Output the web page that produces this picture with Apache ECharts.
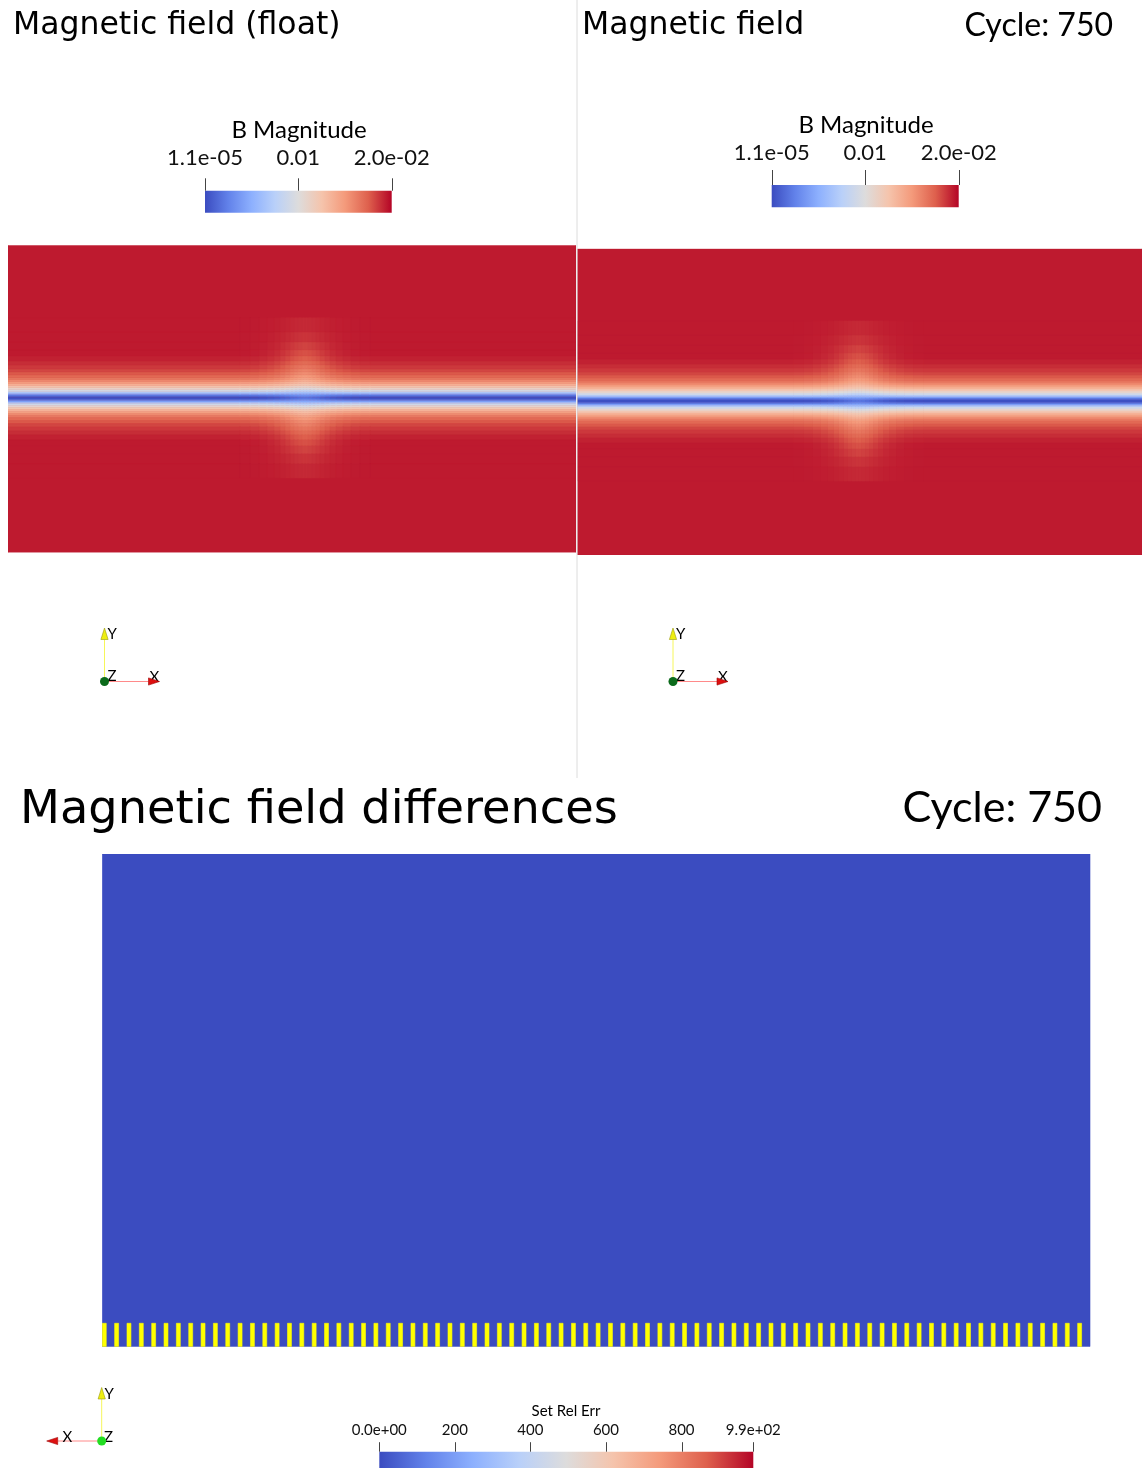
<!DOCTYPE html>
<html><head><meta charset="utf-8">
<script src="https://cdn.jsdelivr.net/npm/echarts@6/dist/echarts.min.js"></script>
<style>html,body{margin:0;padding:0;background:#fff}#c{width:1142px;height:1468px}</style>
</head><body><div id="c"></div>
<script>
// ---------------- data ----------------
const fieldRange = [1.1e-5, 0.02];
const fieldTickValues = [1.1e-5, 0.01, 0.02];
const fieldTickLabels = ['1.1e-05', '0.01', '2.0e-02'];
const errRange = [0, 990];
const errTickValues = [0, 200, 400, 600, 800, 990];
const errTickLabels = ['0.0e+00', '200', '400', '600', '800', '9.9e+02'];
// B magnitude far from the current sheet
const backgroundB = 0.0194;
// row edges: distance (px-like units) from the current-sheet centre line
const bandRowEdges = [0, 1.5, 3, 4.5, 6, 8, 10, 12, 14, 16, 18, 20, 23, 26, 29, 33, 37, 42, 48, 56, 66, 80];
// B magnitude per row, away from the island and at the island centre
const bandFarB  = [0.0002, 0.0015, 0.004, 0.0065, 0.009, 0.0108, 0.0122, 0.0135, 0.0146, 0.0156, 0.0164, 0.0171, 0.0177, 0.0182, 0.0186, 0.0189, 0.0192, 0.0194, 0.0194, 0.0194, 0.0194];
const bandBlobB = [0.002, 0.003, 0.0045, 0.006, 0.0078, 0.0095, 0.0108, 0.012, 0.0128, 0.0136, 0.0143, 0.0149, 0.0155, 0.016, 0.0165, 0.017, 0.0175, 0.0179, 0.0183, 0.0187, 0.019];
// island column edges (distance from island centre) and its strength per column
const blobColEdges = [0, 3, 7, 11, 15, 20, 25, 31, 38, 46, 55, 65];
const blobColWeight = [1, 0.94, 0.85, 0.74, 0.6, 0.46, 0.33, 0.22, 0.13, 0.06, 0.02];
// visible extents of the two views (island centre at x=0, sheet at y=0)
const leftViewX = [-297, 271], leftViewY = [-154.6, 152.4];
const rightViewX = [-281, 283.5], rightViewY = [-154, 152.3];
// differences view: 80 mesh columns, relative error 0 everywhere, NaN stripes in bottom rows
const diffCells = 80;
const diffRowsTop = 41;
const diffValue = 0;
const nanRowSpan = [0, 1.95];
const nanWidth = 0.32;

// ---------------- build cells ----------------
function buildField(vx, vy) {
  const out = [[vx[0], vx[1], vy[0], vy[1], backgroundB]];
  const maxE = blobColEdges[blobColEdges.length - 1];
  for (let r = 0; r < bandFarB.length; r++) {
    const d0 = bandRowEdges[r], d1 = bandRowEdges[r + 1];
    for (const s of [1, -1]) {
      const y0 = s > 0 ? d0 : -d1, y1 = s > 0 ? d1 : -d0;
      out.push([vx[0], -maxE, y0, y1, bandFarB[r]]);
      out.push([maxE, vx[1], y0, y1, bandFarB[r]]);
      for (let c = 0; c < blobColWeight.length; c++) {
        const v = bandFarB[r] + blobColWeight[c] * (bandBlobB[r] - bandFarB[r]);
        out.push([blobColEdges[c], blobColEdges[c + 1], y0, y1, v]);
        out.push([-blobColEdges[c + 1], -blobColEdges[c], y0, y1, v]);
      }
    }
  }
  return out;
}
const leftCells = buildField(leftViewX, leftViewY);
const rightCells = buildField(rightViewX, rightViewY);
const diffCellsData = [[0, diffCells, 0, diffRowsTop, diffValue]];
const nanCells = [];
for (let k = 0; k < diffCells; k++) nanCells.push([k, k + nanWidth, nanRowSpan[0], nanRowSpan[1]]);

const coolwarm = ['#3b4cc0', '#6282ea', '#8db0fe', '#b9d0f9', '#dddcdc', '#f5c4ac', '#f49a7b', '#de604d', '#b40426'];

function cellRender(params, api) {
  const a = api.coord([api.value(0), api.value(3)]);
  const b = api.coord([api.value(1), api.value(2)]);
  const col = api.style().fill || api.visual('color');
  return { type: 'rect', shape: { x: a[0], y: a[1], width: b[0] - a[0], height: b[1] - a[1] },
    style: { fill: col, stroke: col, lineWidth: 0.6 } };
}
function barRender(params, api) {
  const a = api.coord([api.value(0), 1]);
  const b = api.coord([api.value(1), 0]);
  const stops = coolwarm.map((c, i) => ({ offset: i / (coolwarm.length - 1), color: c }));
  return { type: 'rect', shape: { x: a[0], y: a[1], width: b[0] - a[0], height: b[1] - a[1] },
    style: { fill: new echarts.graphic.LinearGradient(0, 0, 1, 0, stops) } };
}
function tickRender(len) {
  return function (params, api) {
    const p = api.coord([api.value(0), 1]);
    const x = Math.round(p[0]) + 0.5;
    return { type: 'line', shape: { x1: x, y1: p[1], x2: x, y2: p[1] - len },
      style: { stroke: '#444', lineWidth: 1 } };
  };
}
function nearest(arr, v) {
  let bi = 0, bd = Infinity;
  arr.forEach((t, i) => { const d = Math.abs(t - v); if (d < bd) { bd = d; bi = i; } });
  return bi;
}
function hiddenAxis(gi, range) {
  return { gridIndex: gi, type: 'value', min: range[0], max: range[1], show: false };
}
function cbAxis(gi, range, ticks, labels, margin, fontSize) {
  return { gridIndex: gi, type: 'value', min: range[0], max: range[1], position: 'top',
    axisLine: { show: false }, splitLine: { show: false }, axisTick: { show: false },
    axisLabel: { show: true, customValues: ticks, margin: margin, fontSize: fontSize, fontFamily: 'Lato',
      color: '#111', verticalAlign: 'middle', formatter: v => labels[nearest(ticks, v)] } };
}

const FONT = 'Lato';
function txt(x, y, s, size, align, family) {
  return { type: 'text', x: x, y: y, style: { text: s, fontSize: size, fontFamily: family || FONT,
    fill: '#000', align: align || 'left', verticalAlign: 'middle' }, z: 10 };
}
function triad(ox, oy, dirX, yellowCol, greenCol) {
  const xEnd = ox + dirX * 44, xApex = ox + dirX * 55;
  return [
    { type: 'line', shape: { x1: ox, y1: oy, x2: ox, y2: oy - 42 }, style: { stroke: '#f6f65a', lineWidth: 1 }, z: 10 },
    { type: 'polygon', shape: { points: [[ox - 3.6, oy - 42], [ox + 3.6, oy - 42], [ox, oy - 53.5]] }, style: { fill: yellowCol, stroke: '#9a9a10', lineWidth: 0.6 }, z: 11 },
    { type: 'line', shape: { x1: ox, y1: oy, x2: xEnd, y2: oy }, style: { stroke: '#ff8a8a', lineWidth: 1 }, z: 10 },
    { type: 'polygon', shape: { points: [[xEnd, oy - 3.6], [xEnd, oy + 3.6], [xApex, oy]] }, style: { fill: '#dd1010', stroke: '#a00000', lineWidth: 0.6 }, z: 11 },
    { type: 'circle', shape: { cx: ox, cy: oy, r: 4.5 }, style: { fill: greenCol }, z: 12 }
  ];
}

const TITLE = 'DejaVu Sans';
const option = {
  animation: false,
  backgroundColor: '#ffffff',
  grid: [
    { left: 8, top: 245.3, width: 568, height: 307.3 },
    { left: 577.5, top: 248.7, width: 564.5, height: 306.3 },
    { left: 102.3, top: 854, width: 987.7, height: 492.7 },
    { left: 205, top: 190.7, width: 186.7, height: 22 },
    { left: 771.7, top: 185, width: 187, height: 22.3 },
    { left: 379.3, top: 1451.7, width: 374, height: 20 }
  ],
  xAxis: [
    hiddenAxis(0, leftViewX), hiddenAxis(1, rightViewX), hiddenAxis(2, [0, diffCells]),
    cbAxis(3, fieldRange, fieldTickValues, fieldTickLabels, 32.4, 22),
    cbAxis(4, fieldRange, fieldTickValues, fieldTickLabels, 31.7, 22),
    cbAxis(5, errRange, errTickValues, errTickLabels, 21.7, 15)
  ],
  yAxis: [
    hiddenAxis(0, leftViewY), hiddenAxis(1, rightViewY), hiddenAxis(2, [0, diffRowsTop]),
    hiddenAxis(3, [0, 1]), hiddenAxis(4, [0, 1]), hiddenAxis(5, [0, 1])
  ],
  visualMap: [
    { type: 'continuous', show: false, min: fieldRange[0], max: fieldRange[1], dimension: 4, seriesIndex: [0, 1], inRange: { color: coolwarm } },
    { type: 'continuous', show: false, min: errRange[0], max: errRange[1], dimension: 4, seriesIndex: [2], inRange: { color: coolwarm } }
  ],
  series: [
    { type: 'custom', name: 'B Magnitude (float)', xAxisIndex: 0, yAxisIndex: 0, clip: true, renderItem: cellRender, data: leftCells, encode: { x: [0, 1], y: [2, 3] }, silent: true },
    { type: 'custom', name: 'B Magnitude', xAxisIndex: 1, yAxisIndex: 1, clip: true, renderItem: cellRender, data: rightCells, encode: { x: [0, 1], y: [2, 3] }, silent: true },
    { type: 'custom', name: 'Set Rel Err', xAxisIndex: 2, yAxisIndex: 2, clip: true, renderItem: cellRender, data: diffCellsData, encode: { x: [0, 1], y: [2, 3] }, silent: true },
    { type: 'custom', name: 'NaN', xAxisIndex: 2, yAxisIndex: 2, clip: true, itemStyle: { color: '#ffff00' }, renderItem: cellRender, data: nanCells, encode: { x: [0, 1], y: [2, 3] }, silent: true },
    { type: 'custom', xAxisIndex: 3, yAxisIndex: 3, renderItem: barRender, data: [fieldRange], silent: true },
    { type: 'custom', xAxisIndex: 4, yAxisIndex: 4, renderItem: barRender, data: [fieldRange], silent: true },
    { type: 'custom', xAxisIndex: 5, yAxisIndex: 5, renderItem: barRender, data: [errRange], silent: true },
    { type: 'custom', xAxisIndex: 3, yAxisIndex: 3, renderItem: tickRender(12.4), data: fieldTickValues.map(v => [v]), silent: true, z: 5 },
    { type: 'custom', xAxisIndex: 4, yAxisIndex: 4, renderItem: tickRender(15), data: fieldTickValues.map(v => [v]), silent: true, z: 5 },
    { type: 'custom', xAxisIndex: 5, yAxisIndex: 5, renderItem: tickRender(9.5), data: errTickValues.map(v => [v]), silent: true, z: 5 }
  ],
  graphic: [
    { type: 'line', shape: { x1: 577, y1: 0, x2: 577, y2: 778 }, style: { stroke: '#dcdcdc', lineWidth: 1 }, z: 5 },
    txt(13, 26, 'Magnetic field (float)', 31.5, 'left', TITLE),
    txt(582, 26, 'Magnetic field', 31.5, 'left', TITLE),
    txt(1113, 26, 'Cycle: 750', 32, 'right'),
    txt(299, 130.7, 'B Magnitude', 24, 'center'),
    txt(866, 125, 'B Magnitude', 24, 'center'),
    txt(20, 811, 'Magnetic field differences', 46.3, 'left', TITLE),
    txt(1102, 808, 'Cycle: 750', 43, 'right'),
    txt(566, 1410.7, 'Set Rel Err', 15, 'center'),
    ...triad(104.5, 681.5, 1, '#eeee10', '#0b6a1a'),
    txt(107.5, 634, 'Y', 15), txt(107.5, 676, 'Z', 15), txt(149.5, 677.5, 'X', 15),
    ...triad(673, 681.5, 1, '#eeee10', '#0b6a1a'),
    txt(676, 634, 'Y', 15), txt(676, 676, 'Z', 15), txt(718, 677.5, 'X', 15),
    ...triad(101.7, 1441, -1, '#eeee10', '#22dd22'),
    txt(104.5, 1394, 'Y', 15), txt(104, 1437, 'Z', 15), txt(62.5, 1437, 'X', 15)
  ]
};
const chart = echarts.init(document.getElementById('c'), null, { renderer: 'canvas' });
chart.setOption(option);
</script>
</body></html>
